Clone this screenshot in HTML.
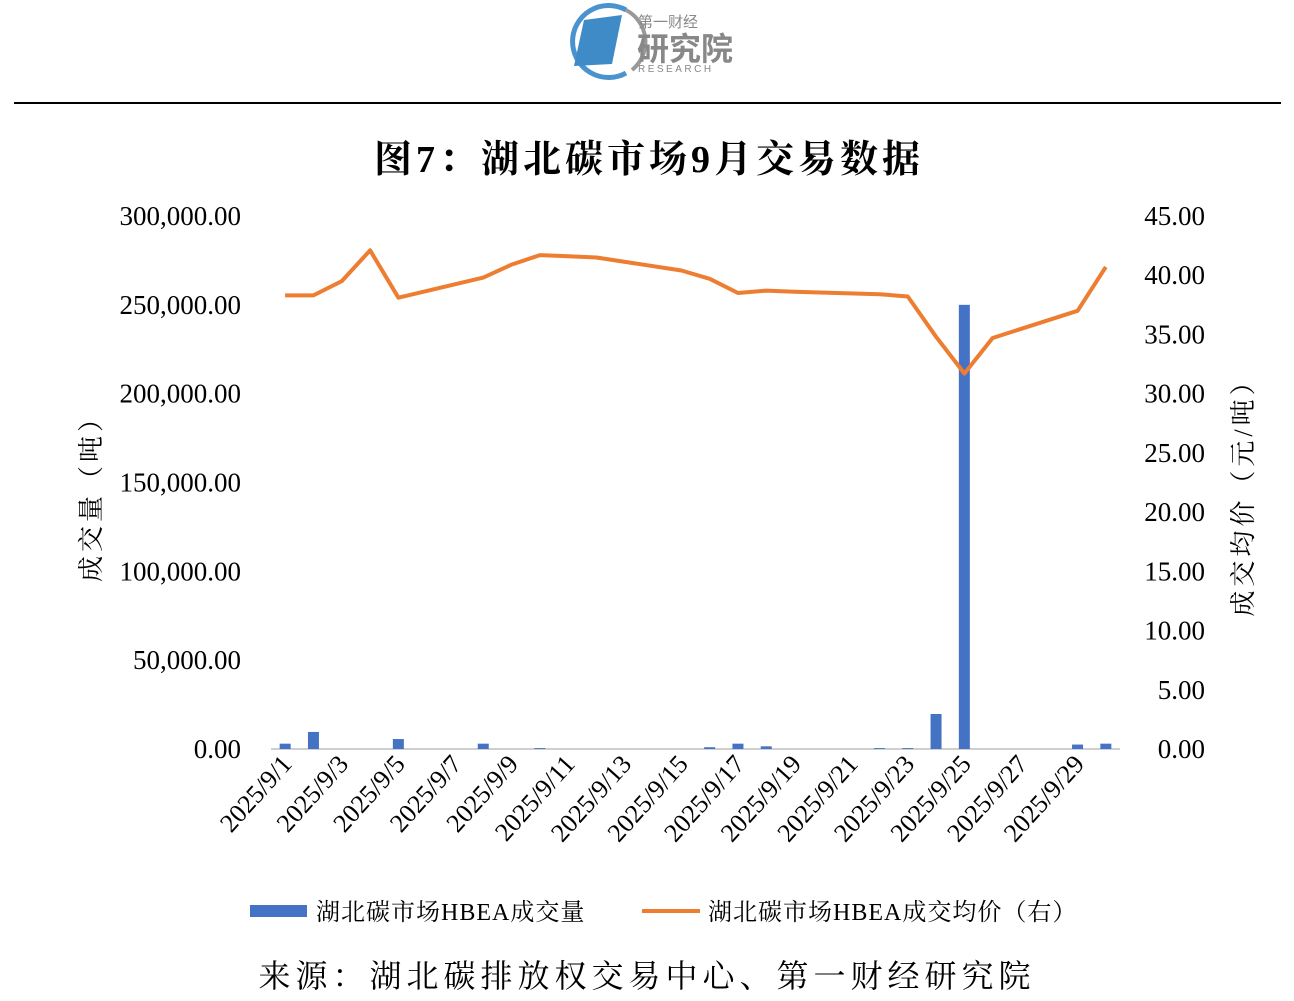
<!DOCTYPE html>
<html><head><meta charset="utf-8">
<style>
html,body{margin:0;padding:0;background:#fff;}
body{width:1294px;height:996px;position:relative;overflow:hidden;font-family:"Liberation Serif","Noto Serif CJK SC",serif;}
</style></head>
<body>
<svg width="1294" height="996" xmlns="http://www.w3.org/2000/svg">
  <g>
    <path d="M626,73 A36,36 0 1 1 626,10" fill="none" stroke="#4a93cf" stroke-width="5"/>
    <path d="M626,10 A36,36 0 0 1 632,70" fill="none" stroke="#999" stroke-width="4"/>
    <polygon points="584,20 622,15 612,64 574,66" fill="#3f8bc8"/>
    <text x="638" y="27" font-size="15" fill="#888" font-family="Noto Sans CJK SC,sans-serif">第一财经</text>
    <text x="637" y="60" font-size="32" fill="#888" font-weight="bold" font-family="Noto Sans CJK SC,sans-serif">研究院</text>
    <text x="638" y="72" font-size="10" fill="#888" letter-spacing="2.5" font-family="Liberation Sans,sans-serif">RESEARCH</text>
  </g>
  <line x1="14" y1="103" x2="1281" y2="103" stroke="#000" stroke-width="2"/>
  <text x="649" y="172" text-anchor="middle" font-size="38" letter-spacing="4" font-weight="bold" font-family="Liberation Serif,Noto Serif CJK SC,serif">图7：湖北碳市场9月交易数据</text>
  <g id="plot"></g>
  <text transform="translate(100,492) rotate(-90)" text-anchor="middle" font-size="26" letter-spacing="4" font-family="Liberation Serif,Noto Serif CJK SC,serif">成交量（吨）</text>
  <text transform="translate(1252,491) rotate(-90)" text-anchor="middle" font-size="26" letter-spacing="4" font-family="Liberation Serif,Noto Serif CJK SC,serif">成交均价（元/吨）</text>
  <g>
    <g>
      <rect x="250" y="905" width="57" height="12" fill="#4472c4"/>
      <text x="316" y="920" font-size="24" letter-spacing="1" font-family="Liberation Serif,Noto Serif CJK SC,serif">湖北碳市场HBEA成交量</text>
    </g>
    <g>
      <line x1="642" y1="911" x2="700" y2="911" stroke="#ed7d31" stroke-width="4"/>
      <text x="708" y="920" font-size="24" letter-spacing="1" font-family="Liberation Serif,Noto Serif CJK SC,serif">湖北碳市场HBEA成交均价（右）</text>
    </g>
  </g>
  <text x="647" y="987" text-anchor="middle" font-size="32" letter-spacing="5" font-family="Liberation Serif,Noto Serif CJK SC,serif">来源：湖北碳排放权交易中心、第一财经研究院</text>
</svg>
<script>
const categories = [];
for (let d = 1; d <= 30; d++) categories.push('2025/9/' + d);
const volumes = [3000,9600,0,0,5600,0,0,3000,0,500,0,0,0,0,0,1000,3000,1500,0,0,0,500,500,19700,250000,0,0,0,2500,3000];
const prices = [38.3,38.3,39.5,42.1,38.1,null,null,39.8,40.9,41.7,41.6,41.5,null,null,40.4,39.7,38.5,38.7,38.6,null,null,38.4,38.2,34.8,31.7,34.7,null,null,37.0,40.7];
const leftTicks = [0,50000,100000,150000,200000,250000,300000];
const rightTicks = [0,5,10,15,20,25,30,35,40,45];

const NS = 'http://www.w3.org/2000/svg';
const plot = document.getElementById('plot');
const X0 = 271, X1 = 1120, Y0 = 749, Y1 = 216;
const step = (X1 - X0) / categories.length;
const xc = i => X0 + step * (i + 0.5);
const yl = v => Y0 - v / 300000 * (Y0 - Y1);
const yr = v => Y0 - v / 45 * (Y0 - Y1);
function mk(tag, attrs) { const e = document.createElementNS(NS, tag); for (const k in attrs) e.setAttribute(k, attrs[k]); plot.appendChild(e); return e; }
const fmt = v => v.toLocaleString('en-US', {minimumFractionDigits: 2, maximumFractionDigits: 2});

leftTicks.forEach(v => {
  const t = mk('text', {x: 241, y: yl(v) + 9, 'text-anchor': 'end', 'font-size': 27});
  t.textContent = fmt(v);
  
  
});
rightTicks.forEach(v => {
  const t = mk('text', {x: 1205, y: yr(v) + 9, 'text-anchor': 'end', 'font-size': 27});
  t.textContent = fmt(v);
  
  
});
const ax = mk('line', {x1: X0, y1: Y0, x2: X1, y2: Y0, stroke: '#bfbfbf', 'stroke-width': 1.5});



volumes.forEach((v, i) => {
  if (!v) return;
  const r = mk('rect', {x: xc(i) - 5.5, y: yl(v), width: 11, height: Y0 - yl(v), fill: '#4472c4'});
  
  
});
let d = '';
prices.forEach((v, i) => { if (v == null) return; d += (d ? 'L' : 'M') + xc(i).toFixed(1) + ',' + yr(v).toFixed(1); });
const ln = mk('path', {d: d, fill: 'none', stroke: '#ed7d31', 'stroke-width': 4, 'stroke-linejoin': 'round'});



categories.forEach((c, i) => {
  if (i % 2) return;
  const x = xc(i) + 8, y = Y0 + 16;
  const t = mk('text', {x: x, y: y, 'text-anchor': 'end', 'font-size': 26, transform: 'rotate(-48 ' + x + ' ' + y + ')'});
  t.textContent = c;
  
  
});
</script>
</body></html>
